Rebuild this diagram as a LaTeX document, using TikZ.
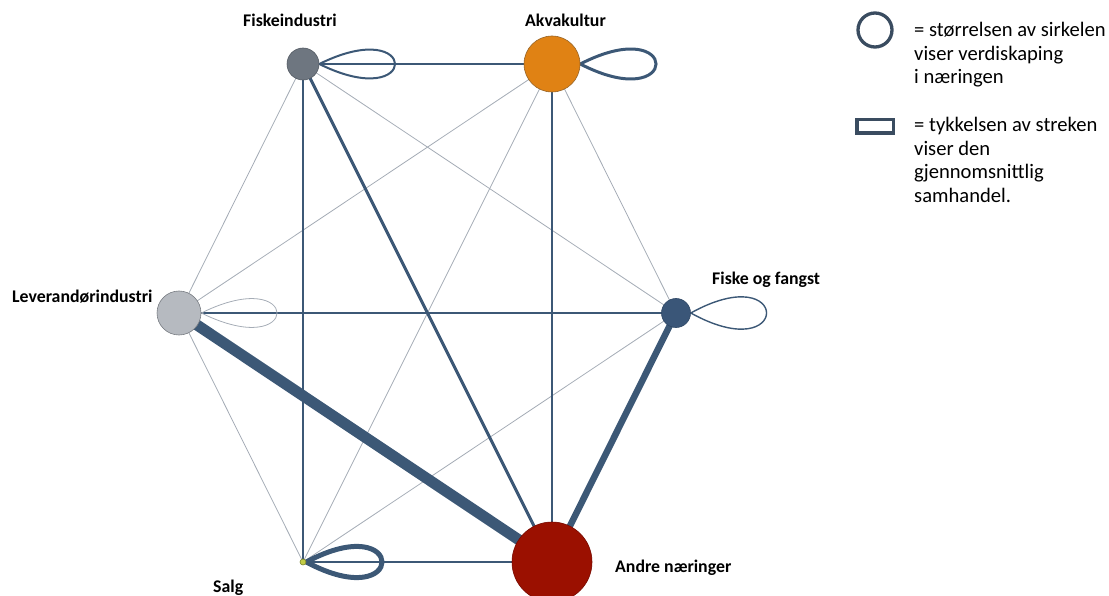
\documentclass[tikz,border=0pt]{standalone}
\usepackage{fontspec}
\setmainfont{Carlito}
\usetikzlibrary{backgrounds}
\definecolor{linkblue}{RGB}{60,88,118}
\definecolor{linkgray}{RGB}{165,172,182}
\definecolor{keyblue}{RGB}{58,76,96}
\definecolor{fiskfill}{RGB}{110,118,128}
\definecolor{fiskline}{RGB}{85,92,100}
\definecolor{akvafill}{RGB}{224,130,20}
\definecolor{akvaline}{RGB}{150,100,40}
\definecolor{levfill}{RGB}{182,186,192}
\definecolor{levline}{RGB}{120,124,130}
\definecolor{fangfill}{RGB}{58,86,120}
\definecolor{fangline}{RGB}{45,70,100}
\definecolor{salgfill}{RGB}{195,205,70}
\definecolor{salgline}{RGB}{120,130,40}
\definecolor{andrefill}{RGB}{155,16,0}
\definecolor{andreline}{RGB}{120,10,0}
\tikzset{
  sector/.style={circle,draw=#1line,fill=#1fill,line width=0.6pt,inner sep=0pt},
  faint/.style={draw=linkgray,line width=0.8pt},
  link/.style={draw=linkblue,line width=#1},
  tag/.style={font=\fontsize{17.8}{20}\selectfont\bfseries,inner sep=0pt,anchor=base west},
  keytext/.style={font=\fontsize{20.6}{23.5}\selectfont,align=left,inner sep=0pt,anchor=north west}
}
\begin{document}
\begin{tikzpicture}[x=1pt,y=-1pt]
    \useasboundingbox (0,0) rectangle (1109,596);
    % sectors
    \node[sector=fisk,minimum size=32pt] (fi) at (303,64) {};
    \node[sector=akva,minimum size=56pt] (ak) at (552,64) {};
    \node[sector=lev,minimum size=44pt] (le) at (179,313) {};
    \node[sector=fang,minimum size=29pt] (ff) at (676,313) {};
    \node[sector=salg,minimum size=6pt] (sa) at (303,562) {};
    \node[sector=andre,minimum size=80pt] (an) at (552,562) {};
    % links
    \begin{pgfonlayer}{background}
    \draw[faint] (fi.center)--(le.center);
    \draw[faint] (fi.center)--(ff.center);
    \draw[faint] (ak.center)--(le.center);
    \draw[faint] (ak.center)--(ff.center);
    \draw[faint] (ak.center)--(sa.center);
    \draw[faint] (le.center)--(sa.center);
    \draw[faint] (ff.center)--(sa.center);
    \draw[link=2pt] (fi.center)--(ak.center);
    \draw[link=2pt] (fi.center)--(sa.center);
    \draw[link=3pt] (fi.center)--(an.center);
    \draw[link=2.4pt] (ak.center)--(an.center);
    \draw[link=1.6pt] (le.center)--(ff.center);
    \draw[link=11pt] (le.center)--(an.center);
    \draw[link=6.5pt] (ff.center)--(an.center);
    \draw[link=1.6pt] (sa.center)--(an.center);
    % loops
    \draw[link=2pt] (fi.east) .. controls +(101,-50) and +(101,50) .. (fi.east);
    \draw[link=3pt] (ak.east) .. controls +(101,-52) and +(101,52) .. (ak.east);
    \draw[faint] (le.east) .. controls +(101,-50) and +(101,50) .. (le.east);
    \draw[link=1.4pt] (ff.east) .. controls +(101,-56) and +(101,56) .. (ff.east);
    \draw[link=5pt] (sa.east) .. controls +(101,-54) and +(101,54) .. (sa.east);
    \end{pgfonlayer}
    % labels
    \node[tag] (tfi) at (243,27) {Fiskeindustri};
    \node[tag] (tak) at (525,27) {Akvakultur};
    \node[tag] (tle) at (12,302) {Leverandørindustri};
    \node[tag] (tff) at (712,284) {Fiske og fangst};
    \node[tag] (tsa) at (213,592) {Salg};
    \node[tag] (tan) at (615,572) {Andre næringer};
    % legend
    \node[circle,draw=keyblue,line width=3.3pt,minimum size=34pt,inner sep=0pt] (keycircle) at (875,30) {};
    \node[draw=keyblue,line width=3.5pt,minimum width=36.5pt,minimum height=13.5pt,inner sep=0pt] (keybar) at (875,126.5) {};
    \node[keytext] (ksize) at (914,22) {= størrelsen av sirkelen\\viser verdiskaping\\i næringen};
    \node[keytext] (kwidth) at (914,117) {= tykkelsen av streken\\viser den\\gjennomsnittlig\\samhandel.};
\end{tikzpicture}
\end{document}
